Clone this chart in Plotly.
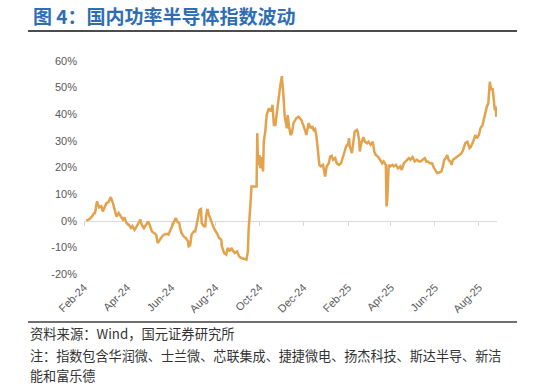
import plotly.graph_objects as go

# ---------------- data ----------------
dates = [
    "2024-02-14", "2024-02-17", "2024-02-19", "2024-02-23", "2024-02-25", "2024-02-26", "2024-02-28", "2024-02-29",
    "2024-03-03", "2024-03-06", "2024-03-08", "2024-03-11", "2024-03-13", "2024-03-16", "2024-03-19", "2024-03-22",
    "2024-03-25", "2024-03-27", "2024-03-30", "2024-04-02", "2024-04-05", "2024-04-07", "2024-04-10", "2024-04-13",
    "2024-04-16", "2024-04-18", "2024-04-21", "2024-04-24", "2024-04-27", "2024-04-29", "2024-05-01", "2024-05-04",
    "2024-05-07", "2024-05-10", "2024-05-12", "2024-05-15", "2024-05-18", "2024-05-21", "2024-05-23", "2024-05-26",
    "2024-05-29", "2024-06-01", "2024-06-05", "2024-06-07", "2024-06-10", "2024-06-12", "2024-06-15", "2024-06-17",
    "2024-06-19", "2024-06-22", "2024-06-23", "2024-06-25", "2024-06-28", "2024-07-01", "2024-07-04", "2024-07-05",
    "2024-07-07", "2024-07-09", "2024-07-12", "2024-07-14", "2024-07-16", "2024-07-18", "2024-07-20", "2024-07-22",
    "2024-07-23", "2024-07-26", "2024-07-28", "2024-07-29", "2024-07-31", "2024-08-02", "2024-08-05", "2024-08-08",
    "2024-08-10", "2024-08-13", "2024-08-16", "2024-08-19", "2024-08-20", "2024-08-23", "2024-08-26", "2024-08-28",
    "2024-08-31", "2024-09-02", "2024-09-05", "2024-09-07", "2024-09-10", "2024-09-13", "2024-09-16", "2024-09-20",
    "2024-09-23", "2024-09-25", "2024-09-26", "2024-09-28", "2024-09-29", "2024-09-30", "2024-10-07", "2024-10-08",
    "2024-10-09", "2024-10-11", "2024-10-12", "2024-10-14", "2024-10-16", "2024-10-17", "2024-10-19", "2024-10-21",
    "2024-10-24", "2024-10-27", "2024-10-29", "2024-10-31", "2024-11-02", "2024-11-04", "2024-11-06", "2024-11-09",
    "2024-11-11", "2024-11-13", "2024-11-15", "2024-11-18", "2024-11-19", "2024-11-21", "2024-11-23", "2024-11-25",
    "2024-11-27", "2024-12-01", "2024-12-04", "2024-12-08", "2024-12-11", "2024-12-13", "2024-12-15", "2024-12-18",
    "2024-12-21", "2024-12-23", "2024-12-25", "2024-12-27", "2024-12-29", "2024-12-31", "2025-01-02", "2025-01-04",
    "2025-01-07", "2025-01-09", "2025-01-10", "2025-01-12", "2025-01-15", "2025-01-17", "2025-01-19", "2025-01-21",
    "2025-01-24", "2025-01-26", "2025-01-29", "2025-02-01", "2025-02-04", "2025-02-06", "2025-02-08", "2025-02-11",
    "2025-02-12", "2025-02-13", "2025-02-14", "2025-02-16", "2025-02-18", "2025-02-20", "2025-02-23", "2025-02-24",
    "2025-02-26", "2025-02-27", "2025-03-01", "2025-03-04", "2025-03-06", "2025-03-09", "2025-03-11", "2025-03-14",
    "2025-03-17", "2025-03-19", "2025-03-21", "2025-03-24", "2025-03-27", "2025-03-30", "2025-04-01", "2025-04-04",
    "2025-04-05", "2025-04-06", "2025-04-08", "2025-04-10", "2025-04-13", "2025-04-15", "2025-04-18", "2025-04-21",
    "2025-04-24", "2025-04-26", "2025-04-29", "2025-05-02", "2025-05-06", "2025-05-08", "2025-05-11", "2025-05-14",
    "2025-05-17", "2025-05-20", "2025-05-22", "2025-05-25", "2025-05-28", "2025-05-30", "2025-06-01", "2025-06-04",
    "2025-06-07", "2025-06-10", "2025-06-12", "2025-06-14", "2025-06-17", "2025-06-20", "2025-06-22", "2025-06-24",
    "2025-06-26", "2025-06-28", "2025-06-30", "2025-07-02", "2025-07-04", "2025-07-06", "2025-07-09", "2025-07-12",
    "2025-07-15", "2025-07-18", "2025-07-20", "2025-07-23", "2025-07-26", "2025-07-29", "2025-07-31", "2025-08-03",
    "2025-08-06", "2025-08-08", "2025-08-11", "2025-08-13", "2025-08-16", "2025-08-18", "2025-08-20", "2025-08-22",
    "2025-08-24", "2025-08-26", "2025-08-28", "2025-08-30", "2025-09-01", "2025-09-02", "2025-09-03", "2025-09-04",
]

values = [
    0.0, 0.3, 0.7, 2.0, 3.0, 2.5, 6.7, 7.3,
    5.0, 5.5, 3.5, 5.6, 6.6, 7.0, 8.9, 6.6,
    3.5, 1.6, 2.9, 1.5, 0.4, 1.2, -0.9, -1.5,
    -2.7, -2.0, -3.4, -2.1, -0.3, 0.4, -1.5, -2.8,
    -1.5, -0.3, -1.5, -4.0, -4.6, -5.2, -8.4, -7.1,
    -5.9, -5.2, -4.9, -5.2, -3.4, -2.1, -0.3, 1.0,
    -0.3, -0.9, -2.7, -4.6, -5.9, -6.5, -7.7, -9.6,
    -9.2, -5.2, -4.0, -4.0, -1.5, 1.0, 4.1, 4.4,
    -0.9, -2.1, -2.1, 1.6, 4.4, 2.2, -0.3, -2.1,
    -3.4, -4.6, -6.5, -7.1, -9.6, -12.1, -12.7, -10.2,
    -11.5, -10.2, -11.5, -12.1, -11.5, -13.4, -14.0, -14.4,
    -14.6, -11.5, -3.4, 4.1, 11.6, 12.9, 12.9, 32.9,
    21.0, 24.7, 19.7, 24.0, 18.5, 29.7, 33.5, 39.7,
    42.2, 41.0, 43.5, 36.0, 36.0, 39.7, 44.7, 51.0,
    54.3, 47.9, 39.1, 34.7, 39.7, 35.5, 32.2, 33.0,
    36.6, 38.5, 39.1, 37.9, 36.0, 34.1, 32.2, 36.6,
    34.7, 35.5, 34.1, 34.5, 31.6, 26.6, 21.0, 20.4,
    21.0, 17.9, 16.6, 20.4, 21.6, 24.1, 24.4, 22.9,
    23.5, 21.6, 21.0, 21.6, 24.1, 26.6, 27.9, 29.1,
    31.0, 27.9, 27.3, 25.4, 30.4, 33.5, 34.1, 33.5,
    30.4, 26.0, 29.1, 31.4, 29.7, 29.1, 29.7, 28.5,
    29.7, 26.0, 24.7, 24.1, 22.9, 21.6, 22.3, 21.0,
    5.4, 8.0, 21.0, 20.4, 21.0, 20.4, 21.0, 19.7,
    20.4, 19.1, 21.6, 22.3, 23.5, 22.9, 23.9, 22.3,
    22.9, 22.3, 22.3, 22.9, 23.5, 22.3, 22.3, 21.6,
    21.6, 19.7, 18.5, 17.9, 18.1, 18.5, 20.4, 22.9,
    23.5, 24.7, 22.9, 22.3, 21.0, 22.9, 23.5, 24.1,
    24.7, 25.4, 26.6, 29.1, 29.7, 27.3, 27.9, 29.7,
    32.2, 31.0, 32.2, 34.7, 36.0, 38.5, 41.6, 42.9,
    44.1, 52.2, 49.1, 49.7, 44.1, 41.5, 43.0, 39.0,
]

tick_dates = ["2024-02-11", "2024-04-11", "2024-06-11", "2024-08-11", "2024-10-11",
              "2024-12-11", "2025-02-11", "2025-04-11", "2025-06-11", "2025-08-11"]
tick_labels = ["Feb-24", "Apr-24", "Jun-24", "Aug-24", "Oct-24",
               "Dec-24", "Feb-25", "Apr-25", "Jun-25", "Aug-25"]
y_ticks = [-20, -10, 0, 10, 20, 30, 40, 50, 60]
y_tick_labels = ["-20%", "-10%", "0%", "10%", "20%", "30%", "40%", "50%", "60%"]

title_text = "图 4：国内功率半导体指数波动"
source_text = "资料来源：Wind，国元证券研究所"
note_line1 = "注：指数包含华润微、士兰微、芯联集成、捷捷微电、扬杰科技、斯达半导、新洁"
note_line2 = "能和富乐德"

# ---------------- figure ----------------
W, H = 536, 386
L, R, T, B = 84, 497, 61, 274
pw, ph = R - L, B - T


def px(x):
    return (x - L) / pw


def py(y):
    return (B - y) / ph


AX_FONT = dict(family="Liberation Sans, Arial, sans-serif", size=11, color="#595959")
CJK = "Noto Sans CJK SC, sans-serif"

fig = go.Figure()
fig.add_trace(go.Scatter(
    x=dates, y=values, mode="lines",
    line=dict(color="#E3A24C", width=2.5),
    hoverinfo="skip", showlegend=False,
))
# helper trace so the zero-line axis is drawn
fig.add_trace(go.Scatter(
    x=[dates[0]], y=[0], mode="markers", marker=dict(opacity=0),
    xaxis="x2", hoverinfo="skip", showlegend=False,
))

fig.update_layout(
    width=W, height=H,
    margin=dict(l=L, r=W - R, t=T, b=H - B, pad=0),
    paper_bgcolor="white", plot_bgcolor="white",
    xaxis=dict(
        type="date", range=["2024-02-11", "2025-09-05"],
        tickmode="array", tickvals=tick_dates, ticktext=tick_labels,
        tickangle=-45, tickfont=AX_FONT, showgrid=False, zeroline=False,
        showline=False, ticks="", ticklabelstandoff=4,
    ),
    xaxis2=dict(
        type="date", overlaying="x", matches="x", anchor="free", position=0.25,
        tickmode="array", tickvals=tick_dates, showticklabels=False,
        showgrid=False, zeroline=False, showline=True, linecolor="#D9D9D9",
        linewidth=1, ticks="outside", ticklen=4, tickcolor="#D9D9D9",
        layer="below traces",
    ),
    yaxis=dict(
        range=[-20, 60], tickmode="array", tickvals=y_ticks, ticktext=y_tick_labels,
        tickfont=AX_FONT, showgrid=False, zeroline=False, showline=False,
        ticks="", ticklabelstandoff=6,
    ),
)

annotations = [
    dict(text="<b>" + title_text + "</b>", x=px(31), y=py(15), xanchor="left", yanchor="middle",
         font=dict(family=CJK, size=19, color="#2F6DB5")),
    dict(text=source_text, x=px(28), y=py(333), xanchor="left", yanchor="middle",
         font=dict(family=CJK, size=13.3, color="#333333")),
    dict(text=note_line1, x=px(28), y=py(355), xanchor="left", yanchor="middle",
         font=dict(family=CJK, size=13.1, color="#333333")),
    dict(text=note_line2, x=px(28), y=py(375), xanchor="left", yanchor="middle",
         font=dict(family=CJK, size=13.1, color="#333333")),
]
for a in annotations:
    a.update(xref="paper", yref="paper", showarrow=False)
fig.update_layout(annotations=annotations)

fig.add_shape(type="line", xref="paper", yref="paper", x0=px(28), x1=px(517), y0=py(31), y1=py(31),
              line=dict(color="#111111", width=1.5))
fig.add_shape(type="line", xref="paper", yref="paper", x0=px(28), x1=px(517), y0=py(322), y1=py(322),
              line=dict(color="#404040", width=1.5))

fig.write_html("out.html", config={"displayModeBar": False},
               post_script="document.body.style.margin='0px';")
